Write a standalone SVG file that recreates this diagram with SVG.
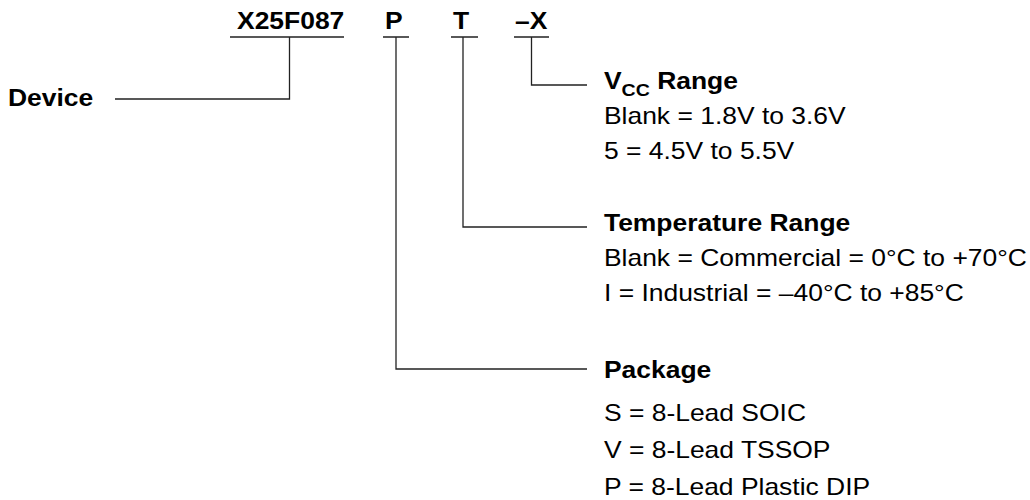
<svg xmlns="http://www.w3.org/2000/svg" width="1030" height="500" viewBox="0 0 1030 500">
<style>
.t{font-family:"Liberation Sans",Arial,sans-serif;font-size:23px;fill:#000}
.b{font-weight:bold}
.sub{font-size:17px}
.ln{fill:none;stroke:#222;stroke-width:1.3}
</style>
<rect width="1030" height="500" fill="#fff"/>
<g id="connectors" class="ln">
<path d="M230 37H344M289.5 37V99H115"/>
<path d="M383 37H409M396 37V369H587"/>
<path d="M451 37H478M463 37V227H587"/>
<path d="M514 37H549M531.5 37V85H587"/>
</g>
<g transform="scale(1.15,1)">
<g id="part-number">
<text class="t b" x="206.1" y="29">X25F087</text>
<text class="t b" x="334.8" y="29">P</text>
<text class="t b" x="393.9" y="29">T</text>
<text class="t b" x="447.8" y="29">–X</text>
</g>
<g id="device"><text class="t b" x="7" y="106">Device</text></g>
<g id="vcc">
<text class="t b" x="525.2" y="89">V<tspan class="sub" dy="7">CC</tspan><tspan dy="-7"> Range</tspan></text>
<text class="t" x="525.2" y="124">Blank = 1.8V to 3.6V</text>
<text class="t" x="525.2" y="159">5 = 4.5V to 5.5V</text>
</g>
<g id="temperature">
<text class="t b" x="525.2" y="231">Temperature Range</text>
<text class="t" x="525.2" y="266">Blank = Commercial = 0°C to +70°C</text>
<text class="t" x="525.2" y="301">I = Industrial = –40°C to +85°C</text>
</g>
<g id="package">
<text class="t b" x="525.2" y="378">Package</text>
<text class="t" x="525.2" y="421">S = 8-Lead SOIC</text>
<text class="t" x="525.2" y="458">V = 8-Lead TSSOP</text>
<text class="t" x="525.2" y="495">P = 8-Lead Plastic DIP</text>
</g>
</g>
</svg>
